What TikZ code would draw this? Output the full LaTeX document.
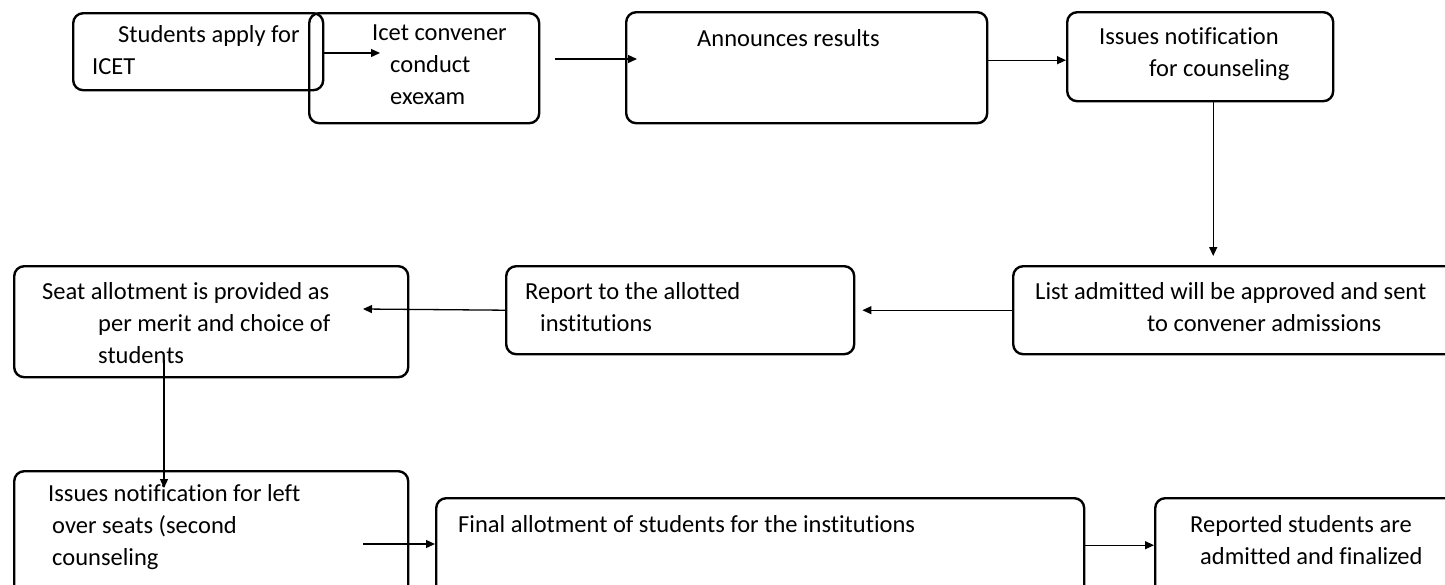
\documentclass[tikz,border=0pt]{standalone}
\usepackage{fontspec}
\setmainfont{Carlito}[Ligatures=NoCommon]
\usepackage{tikz}
\usetikzlibrary{arrows.meta, positioning, calc}
\tikzset{
	stepbox/.style  ={rectangle, rounded corners=10pt, draw=black, line width=2.4pt, anchor=north west, inner sep=0pt},
	lbl/.style      ={anchor=north west, align=left, inner sep=0pt, font=\fontsize{24.5}{32}\selectfont},
	flowarrow/.style={-{Triangle[length=9pt, width=8pt]}, line width=1.3pt},
}
\begin{document}
\begin{tikzpicture}[x=1pt, y=-1pt]
	\clip (0,0) rectangle (1445,584);
	\node[stepbox, minimum width=250pt, minimum height=77pt] (apply) at (72,12) {};
	\node[stepbox, minimum width=230pt, minimum height=110pt] (conv) at (308,12) {};
	\node[stepbox, minimum width=361pt, minimum height=111pt] (ann) at (625,11) {};
	\node[stepbox, minimum width=266pt, minimum height=89pt] (notif) at (1066,11) {};
	\node[stepbox, minimum width=470pt, minimum height=88pt] (list) at (1012,265) {};
	\node[stepbox, minimum width=348pt, minimum height=88pt] (rep) at (505,265) {};
	\node[stepbox, minimum width=394pt, minimum height=111pt] (seat) at (13,265) {};
	\node[stepbox, minimum width=394pt, minimum height=140pt] (left) at (13,470) {};
	\node[stepbox, minimum width=648pt, minimum height=110pt] (final) at (435,497) {};
	\node[stepbox, minimum width=320pt, minimum height=110pt] (fin) at (1154,497) {};
	\node[lbl] (applyT) at (92,25) {\hspace*{26pt}Students apply for\\ICET};
	\node[lbl] (convT) at (372,25) {Icet convener\\\hspace*{18pt}conduct\\\hspace*{18pt}exexam};
	\node[lbl] (annT) at (697,29) {Announces results};
	\node[lbl] (notifT) at (1099,27) {Issues notification\\\hspace*{50pt}for counseling};
	\node[lbl] (listT) at (1035,282) {List admitted will be approved and sent\\\hspace*{112pt}to convener admissions};
	\node[lbl] (repT) at (525,282) {Report to the allotted\\\hspace*{15pt}institutions};
	\node[lbl] (seatT) at (42,282) {Seat allotment is provided as\\\hspace*{56pt}per merit and choice of\\\hspace*{56pt}students};
	\node[lbl] (leftT) at (48,484) {Issues notification for left\\\hspace*{4pt}over seats (second\\\hspace*{4pt}counseling};
	\node[lbl] (finalT) at (458,515) {Final allotment of students for the institutions};
	\node[lbl] (finT) at (1190,515) {Reported students are\\\hspace*{10pt}admitted and finalized};
	\coordinate (convIn) at (380,53);
	\coordinate (convOut) at (555,59);
	\coordinate (seatIn) at (363,309);
	\coordinate (seatOut) at (164,360);
	\coordinate (leftIn) at (164,488);
	\coordinate (leftOut) at (363,544);
	\draw[flowarrow] (apply.east |- convIn) -- (convIn);
	\draw[flowarrow] (convOut) -- ($(convOut -| ann.west)+(12,0)$);
	\draw[flowarrow] ([yshift=7.5pt]ann.east) -- ([yshift=7.5pt]ann.east -| notif.west);
	\draw[flowarrow, shorten >=9pt] ([xshift=13pt]notif.south) -- ([xshift=13pt]notif.south |- list.north);
	\draw[flowarrow, shorten >=7pt] (list.west) -- (rep.east);
	\draw[flowarrow] (rep.west) -- (seatIn);
	\draw[flowarrow] (seatOut) -- (leftIn);
	\draw[flowarrow] (leftOut) -- (leftOut -| final.west);
	\draw[flowarrow] ([yshift=8pt]final.east) -- ([yshift=8pt]final.east -| fin.west);
\end{tikzpicture}
\end{document}
